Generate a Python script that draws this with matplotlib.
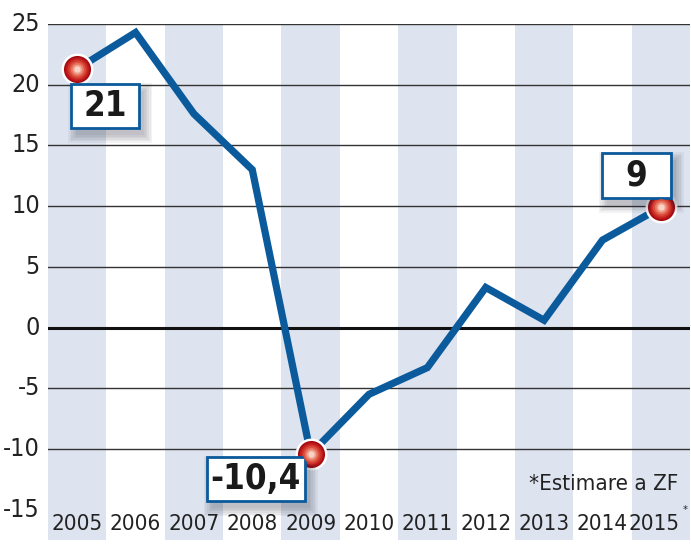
import numpy as np
import matplotlib.pyplot as plt
from matplotlib.patches import Rectangle

plt.rcParams['font.family'] = ['DejaVu Sans']
plt.rcParams['font.stretch'] = 'condensed'

years = ['2005', '2006', '2007', '2008', '2009', '2010', '2011', '2012', '2013', '2014', '2015']
values = [21.3, 24.3, 17.6, 13.0, -10.4, -5.5, -3.3, 3.3, 0.6, 7.2, 9.9]
marked = [0, 4, 10]  # puncte cu bila rosie
labels = ['21', '-10,4', '9']
yticks = [25, 20, 15, 10, 5, 0, -5, -10, -15]
note = '*Estimare a ZF'

blue = '#0a5a9c'
stripe = '#dde3ef'

fig = plt.figure(figsize=(6.91, 5.45), dpi=100)
ax = fig.add_axes([48 / 691, 1 - 540 / 545, 642 / 691, 516 / 545])
ax.set_xlim(-0.5, len(years) - 0.5)
ax.set_ylim(-17.5, 25)
ax.axis('off')

# benzi verticale
for i in range(len(years)):
    if i % 2 == 0:
        ax.axvspan(i - 0.5, i + 0.5, color=stripe, lw=0, zorder=0)

# grila
for v in yticks:
    if v == -15:
        continue
    ax.axhline(v, color='#111111' if v == 0 else '#333333', lw=2.2 if v == 0 else 1.0, zorder=1)

for v in yticks:
    ax.text(-0.64, v, str(v), ha='right', va='center', fontsize=18, color='#222222',
            clip_on=False)

x = np.arange(len(years))
ax.plot(x, values, color=blue, lw=5.2, solid_joinstyle='miter', zorder=3)

# bile rosii
mx = [x[i] for i in marked]
my = [values[i] for i in marked]
ax.scatter(mx, my, s=23**2, color='white', zorder=4, lw=0)
shades = ['#a50c12', '#bf1a1c', '#cf3228', '#db5040', '#e6745f', '#efa08d', '#f8d2c6']
for k, c in enumerate(shades):
    ax.scatter(mx, my, s=(19.5 - k * 2.5)**2, color=c, zorder=5 + k, lw=0)

# etichete in casete
pxw = 642 / 11
pxh = 516 / 42.5
boxes = [(0.48, 18.25, 68, 44), (3.06, -12.5, 98, 44), (9.58, 12.52, 69, 45)]
for (cx, cy, w, h), lab in zip(boxes, labels):
    bw = w / pxw
    bh = h / pxh
    for k in range(6):
        g = k * 1.6
        ax.add_patch(Rectangle((cx - bw / 2 + (5 - g) / pxw, cy - bh / 2 - (7 + g) / pxh),
                               bw + 2 * g / pxw, bh + 2 * g / pxh,
                               facecolor='#222233', alpha=0.05, lw=0, zorder=6))
    ax.add_patch(Rectangle((cx - bw / 2, cy - bh / 2), bw, bh, facecolor='white',
                           edgecolor=blue, lw=2, zorder=7))
    ax.text(cx, cy, lab, ha='center', va='center', fontsize=25, fontweight='bold',
            color='#1a1a1a', zorder=8)

# an pe axa x
for i, yr in enumerate(years):
    xi = i - 0.12 if i == len(years) - 1 else i
    ax.text(xi, -16.15, yr, ha='center', va='center', fontsize=16, color='#222222', zorder=2)
ax.text(len(years) - 1 + 0.42, -15.05, '*', ha='center', va='center', fontsize=8, color='#222222')

ax.text(10.3, -12.85, note, ha='right', va='center', fontsize=16, color='#222222', zorder=2)

fig.savefig('out.png', dpi=100)
